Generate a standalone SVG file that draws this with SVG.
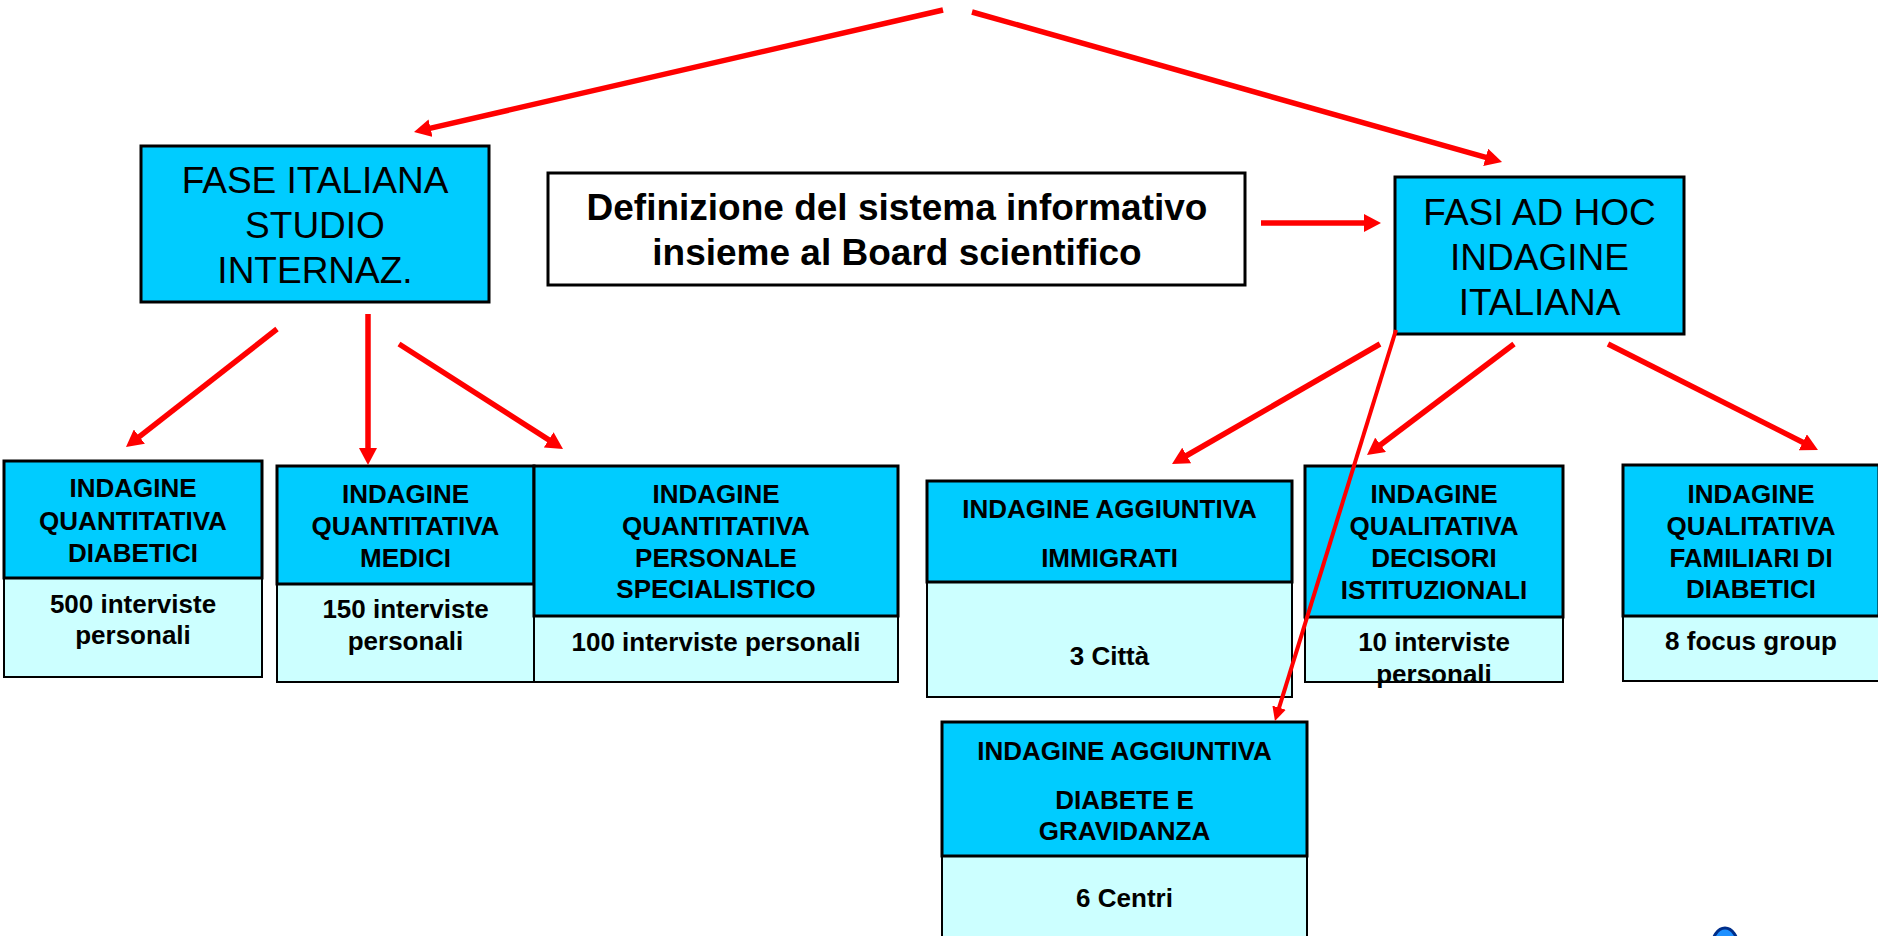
<svg xmlns="http://www.w3.org/2000/svg" width="1878" height="936" viewBox="0 0 1878 936">
<style>
  .hdr{fill:#00CCFF;stroke:#000;stroke-width:3}
  .low{fill:#CCFFFF;stroke:#000;stroke-width:2}
  .big{fill:#00CCFF;stroke:#000;stroke-width:3}
  .plain{fill:#fff;stroke:#000;stroke-width:3}
  text{font-family:"Liberation Sans",Arial,sans-serif;fill:#000;text-anchor:middle}
  .t37{font-size:37px}
  .b37{font-size:37px;font-weight:bold}
  .b26{font-size:26px;font-weight:bold}
  .arr{stroke:#FF0000;stroke-width:5.5;fill:none;marker-end:url(#ah)}
  .arrT{stroke:#FF0000;stroke-width:4;fill:none;marker-end:url(#ahs)}
</style>
<defs>
  <marker id="ah" markerUnits="userSpaceOnUse" markerWidth="17" markerHeight="18" viewBox="0 0 17 18" refX="2" refY="9" orient="auto">
    <path d="M0,0 L17,9 L0,18 z" fill="#FF0000"/>
  </marker>
  <marker id="ahs" markerUnits="userSpaceOnUse" markerWidth="14" markerHeight="14" viewBox="0 0 14 14" refX="1" refY="7" orient="auto">
    <path d="M0,0 L14,7 L0,14 z" fill="#FF0000"/>
  </marker>
</defs>
<rect width="1878" height="936" fill="#fff"/>

<g id="fase-italiana">
  <rect class="big" x="141" y="146" width="348" height="156"/>
  <text class="t37" x="315" y="193">FASE ITALIANA</text>
  <text class="t37" x="315" y="238">STUDIO</text>
  <text class="t37" x="315" y="283">INTERNAZ.</text>
</g>

<g id="definizione">
  <rect class="plain" x="548" y="173" width="697" height="112"/>
  <text class="b37" x="897" y="220">Definizione del sistema informativo</text>
  <text class="b37" x="897" y="265">insieme al Board scientifico</text>
</g>

<g id="fasi-ad-hoc">
  <rect class="big" x="1395" y="177" width="289" height="157"/>
  <text class="t37" x="1539.5" y="225">FASI AD HOC</text>
  <text class="t37" x="1539.5" y="270">INDAGINE</text>
  <text class="t37" x="1539.5" y="315">ITALIANA</text>
</g>

<g id="diabetici">
  <rect class="low" x="4" y="578" width="258" height="99"/>
  <rect class="hdr" x="4" y="461" width="258" height="117"/>
  <text class="b26" x="133" y="497">INDAGINE</text>
  <text class="b26" x="133" y="530">QUANTITATIVA</text>
  <text class="b26" x="133" y="562">DIABETICI</text>
  <text class="b26" x="133" y="613">500 interviste</text>
  <text class="b26" x="133" y="644">personali</text>
</g>

<g id="medici">
  <rect class="low" x="277" y="584" width="257" height="98"/>
  <rect class="hdr" x="277" y="466" width="257" height="118"/>
  <text class="b26" x="405.5" y="503">INDAGINE</text>
  <text class="b26" x="405.5" y="535">QUANTITATIVA</text>
  <text class="b26" x="405.5" y="567">MEDICI</text>
  <text class="b26" x="405.5" y="618">150 interviste</text>
  <text class="b26" x="405.5" y="650">personali</text>
</g>

<g id="personale">
  <rect class="low" x="534" y="616" width="364" height="66"/>
  <rect class="hdr" x="534" y="466" width="364" height="150"/>
  <text class="b26" x="716" y="503">INDAGINE</text>
  <text class="b26" x="716" y="535">QUANTITATIVA</text>
  <text class="b26" x="716" y="567">PERSONALE</text>
  <text class="b26" x="716" y="598">SPECIALISTICO</text>
  <text class="b26" x="716" y="651">100 interviste personali</text>
</g>

<g id="immigrati">
  <rect class="low" x="927" y="582" width="365" height="115"/>
  <rect class="hdr" x="927" y="481" width="365" height="101"/>
  <text class="b26" x="1109.5" y="518">INDAGINE AGGIUNTIVA</text>
  <text class="b26" x="1109.5" y="567">IMMIGRATI</text>
  <text class="b26" x="1109.5" y="665">3 Città</text>
</g>

<g id="decisori">
  <rect class="low" x="1305" y="617" width="258" height="65"/>
  <rect class="hdr" x="1305" y="466" width="258" height="151"/>
  <text class="b26" x="1434" y="503">INDAGINE</text>
  <text class="b26" x="1434" y="535">QUALITATIVA</text>
  <text class="b26" x="1434" y="567">DECISORI</text>
  <text class="b26" x="1434" y="599">ISTITUZIONALI</text>
  <text class="b26" x="1434" y="651">10 interviste</text>
  <text class="b26" x="1434" y="683">personali</text>
</g>

<g id="familiari">
  <rect class="low" x="1623" y="616" width="256" height="65"/>
  <rect class="hdr" x="1623" y="465" width="256" height="151"/>
  <text class="b26" x="1751" y="503">INDAGINE</text>
  <text class="b26" x="1751" y="535">QUALITATIVA</text>
  <text class="b26" x="1751" y="567">FAMILIARI DI</text>
  <text class="b26" x="1751" y="598">DIABETICI</text>
  <text class="b26" x="1751" y="650">8 focus group</text>
</g>

<g id="gravidanza">
  <rect class="low" x="942" y="856" width="365" height="100"/>
  <rect class="hdr" x="942" y="722" width="365" height="134"/>
  <text class="b26" x="1124.5" y="760">INDAGINE AGGIUNTIVA</text>
  <text class="b26" x="1124.5" y="809">DIABETE E</text>
  <text class="b26" x="1124.5" y="840">GRAVIDANZA</text>
  <text class="b26" x="1124.5" y="907">6 Centri</text>
</g>

<g id="icon">
  <ellipse cx="1725" cy="947" rx="13" ry="19" fill="#1E90FF" stroke="#002E8A" stroke-width="3"/>
</g>

<g id="connectors">
  <line class="arr" x1="943" y1="10" x2="428.6" y2="128.6"/>
  <line class="arr" x1="972" y1="12" x2="1487.6" y2="157.9"/>
  <line class="arr" x1="1261" y1="223" x2="1366" y2="223"/>
  <line class="arr" x1="277" y1="329" x2="137.8" y2="437.8"/>
  <line class="arr" x1="368" y1="314" x2="368" y2="450"/>
  <line class="arr" x1="399" y1="344" x2="550.4" y2="440.9"/>
  <line class="arr" x1="1380" y1="344" x2="1185" y2="456.5"/>
  <line class="arr" x1="1514" y1="344" x2="1379" y2="446"/>
  <line class="arr" x1="1608" y1="344" x2="1804.6" y2="443.2"/>
  <line class="arrT" x1="1396" y1="330" x2="1278.8" y2="708.6"/>
</g>
</svg>
